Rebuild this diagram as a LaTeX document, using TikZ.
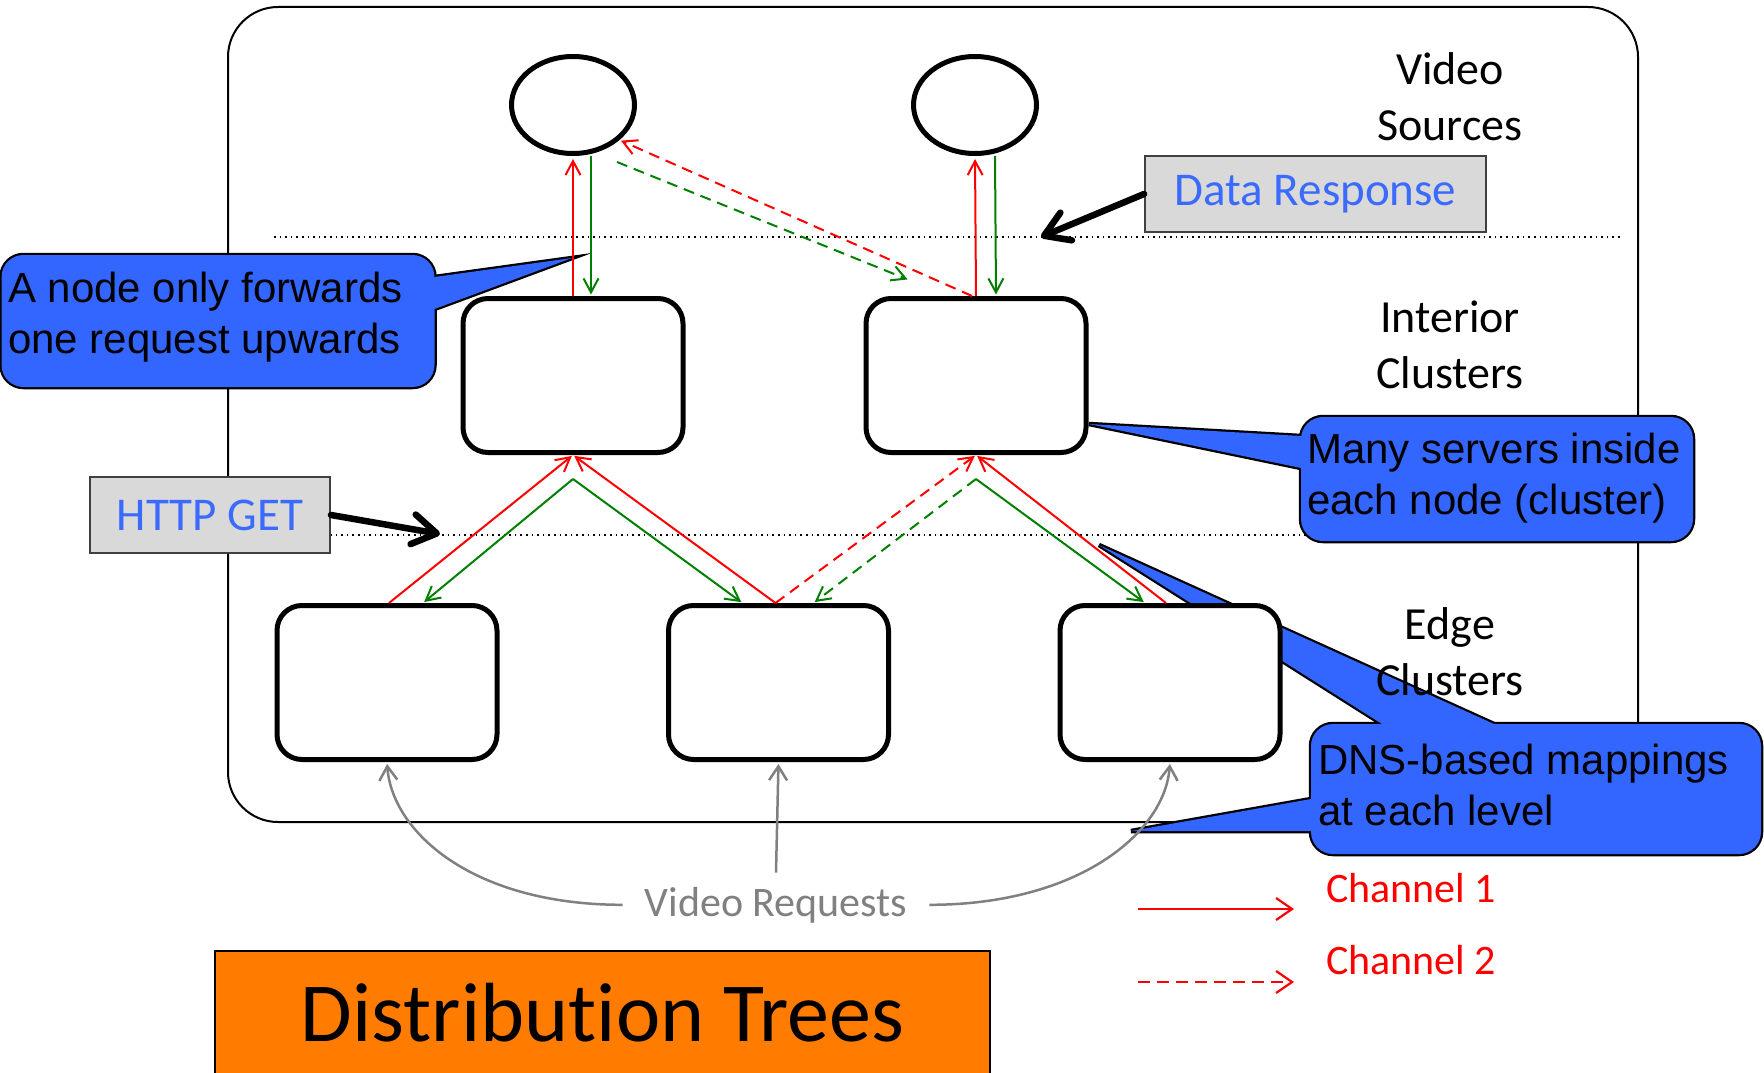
\documentclass[tikz,border=0pt]{standalone}
\usepackage{fontspec}
\setmainfont{Carlito}[Ligatures=NoCommon]
\newfontfamily\calloutfont{Liberation Sans}
\usetikzlibrary{arrows.meta,shapes.geometric,calc}

\definecolor{callblue}{RGB}{51,102,255}
\definecolor{tagblue}{RGB}{59,106,255}
\definecolor{titleorange}{RGB}{255,124,0}
\definecolor{taggray}{RGB}{217,217,217}
\definecolor{flowgreen}{RGB}{0,128,0}
\definecolor{flowred}{RGB}{255,0,0}
\definecolor{reqgray}{RGB}{128,128,128}

\tikzset{
  clusterbox/.style={draw, line width=5pt, fill=white, rounded corners=25pt,
    minimum width=220pt, minimum height=154pt, inner sep=0pt},
  sourcenode/.style={ellipse, draw, line width=5pt, fill=white,
    minimum width=123pt, minimum height=97pt, inner sep=0pt},
  flowtip/.style={-{Straight Barb[length=14pt,width=15pt]}, shorten >=1.5pt},
  upflow/.style={draw=flowred, line width=2pt, flowtip},
  downflow/.style={draw=flowgreen, line width=2pt, flowtip},
  chantwo/.style={dash pattern=on 11pt off 7pt},
  levelline/.style={line width=1.8pt, dash pattern=on 1.5pt off 4.1pt, line cap=butt},
  layerlabel/.style={align=center, font=\fontsize{46}{56}\selectfont, inner sep=0pt},
  labelbox/.style={draw=black!75, line width=2pt, fill=taggray, text=tagblue,
    font=\fontsize{47}{56}\selectfont, inner sep=0pt},
  notearrow/.style={line width=6.5pt, line cap=round, line join=round,
    -{Straight Barb[length=24pt,width=30pt,round]}},
  calloutedge/.style={draw=black, line width=4.5pt},
  calloutfill/.style={fill=callblue},
  callouttext/.style={align=left, inner sep=0pt, anchor=west,
    font=\calloutfont\fontsize{42}{51.5}\selectfont},
  reqarrow/.style={draw=reqgray, line width=2.5pt, shorten >=2pt,
    -{Straight Barb[length=14pt,width=18pt]}},
  legendarrow/.style={draw=flowred, line width=2.2pt,
    -{Straight Barb[length=16pt,width=22pt]}},
  legendtext/.style={text=flowred, anchor=base west, inner sep=0pt,
    font=\fontsize{42}{50}\selectfont},
}

% outlines of the three callouts
\def\noteAbox{[rounded corners=22pt] (1.5,255) rectangle (434.5,387)}
\def\noteAtip{(tipA) -- ($(tipA)!1.12!(434.5,277)$) -- ($(tipA)!1.12!(434.5,309)$) -- cycle}
\def\noteBbox{[rounded corners=22pt] (1301,417) rectangle (1693,541)}
\def\noteBtip{(tipB) -- ($(tipB)!1.08!(1301,436)$) -- ($(tipB)!1.08!(1301,468)$) -- cycle}
\def\noteCbox{[rounded corners=22pt] (1311,724) rectangle (1761,854)}
\def\noteCtipUp{(tipC) -- ($(tipC)!1.08!(1382,724)$) -- ($(tipC)!1.08!(1494,724)$) -- cycle}
\def\noteCtipLeft{(tipD) -- ($(tipD)!1.08!(1311,799)$) -- ($(tipD)!1.08!(1311,831)$) -- cycle}

\begin{document}
\begin{tikzpicture}[x=1pt,y=-1pt]
\useasboundingbox (0,0) rectangle (1764,1073);

% frame around the delivery network
\draw[line width=2pt, rounded corners=50pt] (228,7) rectangle (1638,822);

% tier boundaries
\draw[levelline] (274,237) -- (1620,237);
\draw[levelline] (274,535) -- (1620,535);

% callouts: outlines stroked first, then filled, so box and pointer merge
\coordinate (tipA) at (572,258);
\coordinate (tipB) at (1089,424);
\coordinate (tipC) at (1099,545);
\coordinate (tipD) at (1131,831);

\path[calloutedge] \noteAbox;
\path[calloutedge] \noteAtip;
\path[calloutfill] \noteAbox;
\path[calloutfill] \noteAtip;

\path[calloutedge] \noteBbox;
\path[calloutedge] \noteBtip;
\path[calloutfill] \noteBbox;
\path[calloutfill] \noteBtip;

\path[calloutedge] \noteCbox;
\path[calloutedge] \noteCtipUp;
\path[calloutedge] \noteCtipLeft;
\path[calloutfill] \noteCbox;
\path[calloutfill] \noteCtipUp;
\path[calloutfill] \noteCtipLeft;

\node[callouttext] (noteA) at (8,317) {A node only forwards\\one request upwards};
\node[callouttext] (noteB) at (1307,478) {Many servers inside\\each node (cluster)};
\node[callouttext] (noteC) at (1318,785) {DNS-based mappings\\at each level};

% video sources
\node[sourcenode] (src1) at (573,105) {};
\node[sourcenode] (src2) at (975,105) {};

% interior clusters
\node[clusterbox] (int1) at (573,375.5) {};
\node[clusterbox] (int2) at (976,375.5) {};

% edge clusters
\node[clusterbox] (edge1) at (387,682.5) {};
\node[clusterbox] (edge2) at (778.5,682.5) {};
\node[clusterbox] (edge3) at (1170,682.5) {};

% requests (red) and responses (green) between sources and interior clusters
\draw[upflow, shorten >=3pt] (int1.north) -- (src1.south);
\draw[downflow] ([xshift=18pt]src1.south) -- ([xshift=18pt]int1.north);
\draw[upflow, shorten >=3pt] (int2.north) -- (src2.south);
\draw[downflow] ([xshift=20pt]src2.south) -- ([xshift=20pt]int2.north);
\draw[upflow, chantwo] ([xshift=-4pt]int2.north) -- (src1.-37);
\draw[downflow, chantwo] ([shift={(44pt,-57pt)}]src1.center) -- ([xshift=-67pt,yshift=16pt]int2.north);

% requests and responses between interior and edge clusters
\coordinate (fork1) at ([yshift=-24pt]int1.south);
\coordinate (fork2) at ([yshift=-24pt]int2.south);
\draw[upflow] ([xshift=2pt]edge1.north) -- (int1.south);
\draw[downflow] (fork1) -- ([xshift=36pt]edge1.north);
\draw[upflow] ([xshift=-3pt]edge2.north) -- (int1.south);
\draw[downflow] (fork1) -- ([xshift=-36pt]edge2.north);
\draw[upflow, chantwo] ([xshift=-3pt]edge2.north) -- (int2.south);
\draw[downflow, chantwo] (fork2) -- ([xshift=35pt]edge2.north);
\draw[upflow] ([xshift=-4pt]edge3.north) -- (int2.south);
\draw[downflow] (fork2) -- ([xshift=-25pt]edge3.north);

% message type tags
\node[labelbox, minimum width=341pt, minimum height=76pt] (dataresp) at (1315.5,194) {Data Response};
\node[labelbox, minimum width=240pt, minimum height=76pt] (httpget) at (210,515) {HTTP GET};
\coordinate (dataTip) at (1041,237);
\coordinate (httpTip) at (440,534);
\draw[notearrow] (dataresp.west) -- (dataTip);
\draw[notearrow] (httpget.east) -- (httpTip);

% incoming video requests
\node[font=\fontsize{42}{50}\selectfont, text=reqgray, anchor=base,
      inner xsep=22pt, inner ysep=14pt] (vreq) at (776,916) {Video Requests};
\draw[reqarrow] (vreq.west) .. controls +(-150,0) and +(5,70) .. (edge1.south);
\draw[reqarrow] (vreq.north) -- (edge2.south);
\draw[reqarrow] (vreq.east) .. controls +(150,0) and +(-5,70) .. (edge3.south);

% tier names (base anchor sits on the second line)
\node[layerlabel, anchor=base] (lblsrc) at (1450,140) {Video\\Sources};
\node[layerlabel, anchor=base] (lblint) at (1450,388) {Interior\\Clusters};
\node[layerlabel, anchor=base] (lbledge) at (1450,695) {Edge\\Clusters};

% legend
\coordinate (chA1) at (1138,909);
\coordinate (chA2) at (1294,909);
\coordinate (chB1) at (1138,982);
\coordinate (chB2) at (1294,982);
\draw[legendarrow] (chA1) -- (chA2);
\draw[legendarrow, dash pattern=on 12pt off 7pt] (chB1) -- (chB2);
\node[legendtext] (chAtext) at (1326,902) {Channel 1};
\node[legendtext] (chBtext) at (1326,974) {Channel 2};

% title
\node[draw, line width=1.5pt, fill=titleorange, minimum width=775pt, minimum height=124pt,
      inner sep=0pt, font=\fontsize{84}{100}\selectfont] (title) at (602.5,1013) {Distribution Trees};
\end{tikzpicture}
\end{document}
